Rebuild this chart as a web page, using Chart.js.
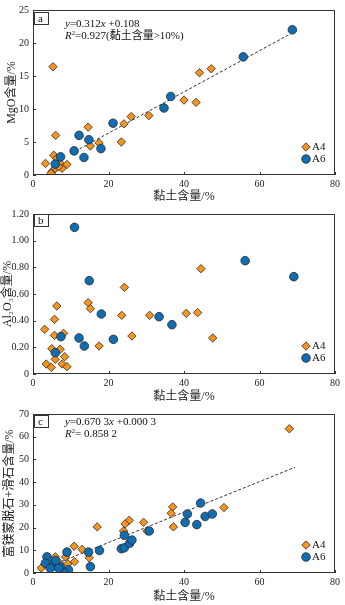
<!DOCTYPE html>
<html>
<head>
<meta charset="utf-8">
<script src="https://cdn.jsdelivr.net/npm/chart.js@4.4.1/dist/chart.umd.min.js"></script>
<style>
  html, body { margin: 0; padding: 0; background: #fff; }
  #wrap { position: relative; width: 345px; height: 605px; }
  .box { position: absolute; left: 0; width: 345px; }
</style>
</head>
<body>
<div id="wrap">
  <div class="box" style="top:0;height:204px"><canvas id="chartA"></canvas></div>
  <div class="box" style="top:204px;height:200px"><canvas id="chartB"></canvas></div>
  <div class="box" style="top:404px;height:201px"><canvas id="chartC"></canvas></div>
</div>
<script>
// panel a: MgO vs clay
const clayA4_a = [5.3, 6.0, 14.6, 15.2, 17.5, 23.4, 24.1, 26.0, 30.7, 40.0, 43.2, 44.1, 47.2, 3.3, 5.5, 6.3, 7.2, 9.0, 5.0, 5.9, 7.7, 6.8, 4.8];
const mgoA4 = [16.4, 6.0, 7.25, 4.4, 4.85, 5.0, 7.75, 8.85, 9.0, 11.35, 11.0, 15.5, 16.1, 1.75, 3.0, 2.5, 1.75, 1.6, 0.5, 1.0, 1.0, 1.25, 0.25];
const clayA6_a = [68.7, 55.7, 36.5, 34.7, 21.2, 12.2, 14.8, 10.9, 18.0, 13.5, 7.3, 5.9];
const mgoA6 = [22.0, 17.9, 11.9, 10.15, 7.85, 6.0, 5.35, 3.65, 4.0, 2.65, 2.75, 1.65];

// panel b: Al2O3 vs clay
const clayA4_b = [44.5, 24.2, 6.3, 14.6, 15.2, 23.5, 30.9, 40.6, 43.6, 47.6, 26.2, 17.5, 5.7, 3.1, 5.7, 8.1, 5.0, 7.2, 8.4, 3.5, 4.85, 7.7, 9.0, 5.9];
const alA4 = [0.79, 0.65, 0.51, 0.535, 0.49, 0.44, 0.44, 0.455, 0.46, 0.27, 0.285, 0.21, 0.41, 0.335, 0.29, 0.305, 0.19, 0.185, 0.13, 0.075, 0.05, 0.075, 0.055, 0.11];
const clayA6_b = [11.0, 14.9, 18.1, 12.2, 13.6, 21.3, 33.4, 36.8, 56.2, 69.1, 7.4, 5.9];
const alA6 = [1.10, 0.70, 0.45, 0.27, 0.21, 0.26, 0.43, 0.37, 0.85, 0.73, 0.28, 0.16];

// panel c: Mg-smectite + talc vs clay
const clayA4_c = [67.9, 50.6, 37.0, 36.6, 37.2, 29.3, 30.2, 25.5, 24.4, 24.0, 17.0, 10.9, 13.0, 14.7, 14.9, 11.0, 9.2, 8.6, 5.9, 5.0, 3.0, 2.2, 7.0];
const smecA4 = [63.5, 28.8, 29.1, 26.3, 20.3, 22.3, 18.5, 23.2, 21.6, 18.5, 20.3, 11.8, 10.4, 9.0, 6.7, 5.0, 4.0, 7.1, 7.1, 2.4, 3.5, 2.2, 4.5];
const clayA6_c = [44.4, 40.9, 45.6, 47.5, 40.3, 43.4, 30.8, 24.2, 23.4, 24.2, 25.6, 26.2, 17.6, 15.2, 14.7, 9.0, 9.4, 8.1, 7.2, 3.7, 3.3, 5.5, 6.8, 4.6, 6.0];
const smecA6 = [30.8, 26.0, 24.9, 26.0, 22.3, 21.3, 18.5, 16.6, 10.7, 11.1, 13.1, 14.5, 9.9, 2.8, 9.2, 9.2, 1.4, 0.4, 2.8, 7.1, 4.3, 4.3, 2.1, 2.1, 5.5];

// regression lines: [slope, intercept, xFrom, xTo]
const fitA = [0.312, 0.108, 10, 69];
const fitC = [0.6703, 0.0003, 7.7, 69.4];

const xTitle = '黏土含量/%';
const FONT = "'Liberation Serif', 'Noto Sans CJK SC', serif";
const ORANGE = '#F7941D';
const BLUE = '#0F6DB3';
const EDGE = '#2a2a2a';

function pts(xs, ys) {
    return xs.map((x, i) => ({ x: x, y: ys[i] }));
}

function fitLine(f) {
    return [{ x: f[2], y: f[0] * f[2] + f[1] }, { x: f[3], y: f[0] * f[3] + f[1] }];
}

// draws a line of mixed text segments: {t, it (italic), sup}
function richText(ctx, x, y, segs, size) {
    segs.forEach(s => {
        const sz = s.sup ? size * 0.6 : size;
        ctx.font = (s.it ? 'italic ' : '') + sz + 'px ' + FONT;
        ctx.fillText(s.t, x, s.sup ? y - size * 0.4 : y);
        x += ctx.measureText(s.t).width;
    });
}

const framePlugin = {
    id: 'frame',
    afterDraw(chart, args, opts) {
        const ctx = chart.ctx;
        const a = chart.chartArea;
        const xs = chart.scales.x, ys = chart.scales.y;
        ctx.save();
        ctx.strokeStyle = '#333';
        ctx.lineWidth = 1;
        ctx.strokeRect(a.left + 0.5, a.top + 0.5, a.right - a.left - 1, a.bottom - a.top - 1);
        // inward tick marks
        ctx.beginPath();
        xs.ticks.forEach(t => {
            const px = Math.round(xs.getPixelForValue(t.value)) + 0.5;
            ctx.moveTo(px, a.bottom);
            ctx.lineTo(px, a.bottom - 3);
        });
        ys.ticks.forEach(t => {
            const py = Math.round(ys.getPixelForValue(t.value)) + 0.5;
            ctx.moveTo(a.left, py);
            ctx.lineTo(a.left + 3, py);
        });
        ctx.stroke();

        // panel letter box
        ctx.fillStyle = '#fff';
        ctx.fillRect(a.left + 1, a.top + opts.boxTop, 14, 12);
        ctx.strokeRect(a.left + 1.5, a.top + opts.boxTop + 0.5, 14, 12);
        ctx.fillStyle = '#111';
        ctx.font = '11px ' + FONT;
        ctx.textBaseline = 'alphabetic';
        ctx.fillText(opts.letter, a.left + 5, a.top + opts.boxTop + 10);

        // equation
        if (opts.eq) {
            opts.eq.forEach((line, i) => {
                richText(ctx, a.left + 32, a.top + opts.eqTop + i * 12, line, 11);
            });
        }

        // legend
        const lx = a.right - 29;
        const items = [
            { label: 'A4', style: 'rectRot', color: ORANGE, r: 4.2, dy: -28 },
            { label: 'A6', style: 'circle', color: BLUE, r: 4.3, dy: -16 }
        ];
        items.forEach(it => {
            ctx.fillStyle = it.color;
            ctx.strokeStyle = EDGE;
            ctx.lineWidth = 0.8;
            Chart.helpers.drawPoint(ctx, { pointStyle: it.style, radius: it.r, borderWidth: 0.8 }, lx, a.bottom + it.dy);
            ctx.fillStyle = '#111';
            ctx.font = '11px ' + FONT;
            ctx.textBaseline = 'middle';
            ctx.fillText(it.label, lx + 6, a.bottom + it.dy + 0.5);
        });
        ctx.restore();
    }
};

function makeChart(id, cfg) {
    const datasets = [
        {
            label: 'A6', data: pts(cfg.a6x, cfg.a6y),
            pointStyle: 'circle', pointRadius: 4.3, backgroundColor: BLUE,
            borderColor: EDGE, borderWidth: 0.8, order: 1
        },
        {
            label: 'A4', data: pts(cfg.a4x, cfg.a4y),
            pointStyle: 'rectRot', pointRadius: 4.2, backgroundColor: ORANGE,
            borderColor: EDGE, borderWidth: 0.8, order: 2
        }
    ];
    if (cfg.fit) {
        datasets.push({
            type: 'line', label: 'fit', data: fitLine(cfg.fit),
            borderColor: '#333', borderWidth: 1, borderDash: [3, 2],
            pointRadius: 0, fill: false, order: 3
        });
    }
    return new Chart(document.getElementById(id), {
        type: 'scatter',
        data: { datasets: datasets },
        options: {
            responsive: true,
            maintainAspectRatio: false,
            animation: false,
            events: [],
            layout: { padding: { top: cfg.padTop, right: 10, left: 0, bottom: 0 } },
            plugins: {
                legend: { display: false },
                tooltip: { enabled: false },
                frame: cfg.frame
            },
            scales: {
                x: {
                    type: 'linear', min: 0, max: 80,
                    ticks: { stepSize: 20, color: '#222', padding: 3, font: { family: FONT, size: 10 } },
                    grid: { display: false, drawTicks: false },
                    border: { display: false },
                    title: { display: true, text: xTitle, color: '#222', padding: { top: 0, bottom: cfg.xTitlePad }, font: { family: FONT, size: 12 } },
                    afterFit(s) { s.height = cfg.xH; }
                },
                y: {
                    type: 'linear', min: 0, max: cfg.yMax,
                    ticks: {
                        stepSize: cfg.yStep, color: '#222', padding: 4, font: { family: FONT, size: 10 },
                        callback: cfg.yFmt
                    },
                    grid: { display: false, drawTicks: false },
                    border: { display: false },
                    title: { display: true, text: cfg.yTitle, color: '#222', padding: { top: cfg.yTitlePad, bottom: 0 }, font: { family: FONT, size: 12 } },
                    afterFit(s) { s.width = 33; }
                }
            }
        },
        plugins: [framePlugin]
    });
}

makeChart('chartA', {
    a4x: clayA4_a, a4y: mgoA4, a6x: clayA6_a, a6y: mgoA6, fit: fitA,
    yMax: 25, yStep: 5, yTitle: 'MgO含量/%', yFmt: v => v,
    padTop: 8, xH: 29, xTitlePad: 0, yTitlePad: 5,
    frame: {
        letter: 'a', boxTop: 2, eqTop: 17,
        eq: [
            [{ t: 'y', it: true }, { t: '=0.312' }, { t: 'x', it: true }, { t: ' +0.108' }],
            [{ t: 'R', it: true }, { t: '2', sup: true }, { t: '=0.927(黏土含量>10%)' }]
        ]
    }
});

makeChart('chartB', {
    a4x: clayA4_b, a4y: alA4, a6x: clayA6_b, a6y: alA6, fit: null,
    yMax: 1.2, yStep: 0.2, yTitle: 'Al₂O₃含量/%', yFmt: v => (v === 0 ? '0' : v.toFixed(2)),
    padTop: 4, xH: 30, xTitlePad: 0, yTitlePad: 1,
    frame: { letter: 'b', boxTop: 0, eqTop: 0, eq: null }
});

makeChart('chartC', {
    a4x: clayA4_c, a4y: smecA4, a6x: clayA6_c, a6y: smecA6, fit: fitC,
    yMax: 70, yStep: 10, yTitle: '富镁蒙脱石+滑石含量/%', yFmt: v => v,
    padTop: 5, xH: 32, xTitlePad: 1, yTitlePad: 3,
    frame: {
        letter: 'c', boxTop: 1, eqTop: 11,
        eq: [
            [{ t: 'y', it: true }, { t: '=0.670 3' }, { t: 'x', it: true }, { t: ' +0.000 3' }],
            [{ t: 'R', it: true }, { t: '2', sup: true }, { t: '= 0.858 2' }]
        ]
    }
});
</script>
</body>
</html>
